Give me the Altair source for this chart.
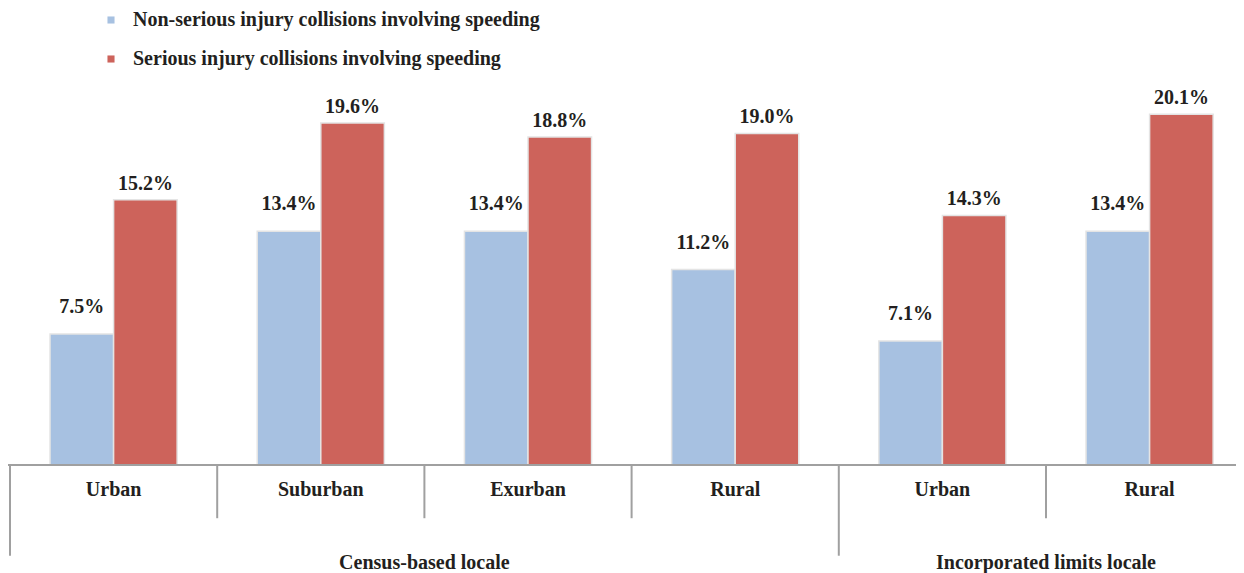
import altair as alt
import pandas as pd

groups = ["Census-based locale"] * 4 + ["Incorporated limits locale"] * 2
locales = ["Urban", "Suburban", "Exurban", "Rural", "Urban", "Rural"]
non_serious = [7.5, 13.4, 13.4, 11.2, 7.1, 13.4]
serious = [15.2, 19.6, 18.8, 19.0, 14.3, 20.1]
series = ["Non-serious injury collisions involving speeding",
          "Serious injury collisions involving speeding"]
colors = ["#A7C1E1", "#CD635B"]

FONT = "Liberation Serif"
TXT = "#231f20"

keys = [f"{g}|{l}" for g, l in zip(groups, locales)]
rows = []
for k, a, b in zip(keys, non_serious, serious):
    rows.append(dict(key=k, series=series[0], value=a, label=f"{a:.1f}%"))
    rows.append(dict(key=k, series=series[1], value=b, label=f"{b:.1f}%"))
bars = pd.DataFrame(rows)

first_in_group = [i == 0 or groups[i] != groups[i - 1] for i in range(len(keys))]
cats = pd.DataFrame(dict(key=keys, locale=locales, group=groups, first=first_in_group))

# group label anchored at the middle of the group's span (start of band 2 / band 5)
grp = pd.DataFrame(dict(key=[keys[2], keys[5]], group=["Census-based locale", "Incorporated limits locale"]))

xscale = alt.Scale(domain=keys, range=[2, 1245.2], paddingInner=0, paddingOuter=0)
yscale = alt.Scale(domain=[-6.19, 26.19], nice=False, zero=False)

X = alt.X("key:N", sort=keys, scale=xscale, axis=None)
X0 = alt.X("key:N", sort=keys, scale=xscale, axis=None, bandPosition=0)
XOFF = alt.XOffset("series:N", sort=series, scale=alt.Scale(paddingOuter=0.63, paddingInner=0))

bar = alt.Chart(bars).mark_bar(stroke="#e4e4e4", strokeWidth=1.5).encode(
    x=X,
    xOffset=XOFF,
    y=alt.Y("value:Q", scale=yscale, axis=None),
    y2=alt.datum(0),
    color=alt.Color("series:N", sort=series,
                    scale=alt.Scale(domain=series, range=colors),
                    legend=alt.Legend(orient="none", legendX=93, legendY=2, title=None,
                                      symbolType="square", symbolSize=50, symbolStrokeWidth=0,
                                      labelFont=FONT, labelFontSize=20, labelFontWeight="bold",
                                      labelColor=TXT, rowPadding=19, labelOffset=12,
                                      labelLimit=800)),
)

def value_text(s, dy):
    return alt.Chart(bars).transform_filter(alt.datum.series == s).mark_text(
        font=FONT, fontSize=20, fontWeight="bold", color=TXT, baseline="middle", dy=dy
    ).encode(x=X, xOffset=XOFF, y=alt.Y("value:Q", scale=yscale, axis=None), text="label:N")

baseline = alt.Chart(pd.DataFrame(dict(v=[0]))).mark_rule(color="#a0a0a0", strokeWidth=2).encode(
    y=alt.Y("v:Q", scale=yscale, axis=None))

short_sep = alt.Chart(cats).transform_filter("!datum.first").mark_rule(
    color="#a0a0a0", strokeWidth=2).encode(x=X0, y=alt.datum(0), y2=alt.datum(-3.05))
long_sep = alt.Chart(cats).transform_filter("datum.first").mark_rule(
    color="#a0a0a0", strokeWidth=2).encode(x=X0, y=alt.datum(0), y2=alt.datum(-5.2))

cat_text = alt.Chart(cats).mark_text(
    font=FONT, fontSize=20, fontWeight="bold", color=TXT, baseline="middle"
).encode(x=X, y=alt.datum(-1.45), text="locale:N")

grp_text = alt.Chart(grp).mark_text(
    font=FONT, fontSize=20, fontWeight="bold", color=TXT, baseline="middle"
).encode(x=X0, y=alt.datum(-5.6), text="group:N")

chart = alt.layer(
    bar, value_text(series[0], -27), value_text(series[1], -16),
    baseline, short_sep, long_sep, cat_text, grp_text
).properties(
    width=1228, height=565, padding=0,
    autosize=alt.AutoSizeParams(type="none"),
).configure_view(stroke=None)

chart.save("out.html", embed_options={"renderer": "svg", "actions": False})
